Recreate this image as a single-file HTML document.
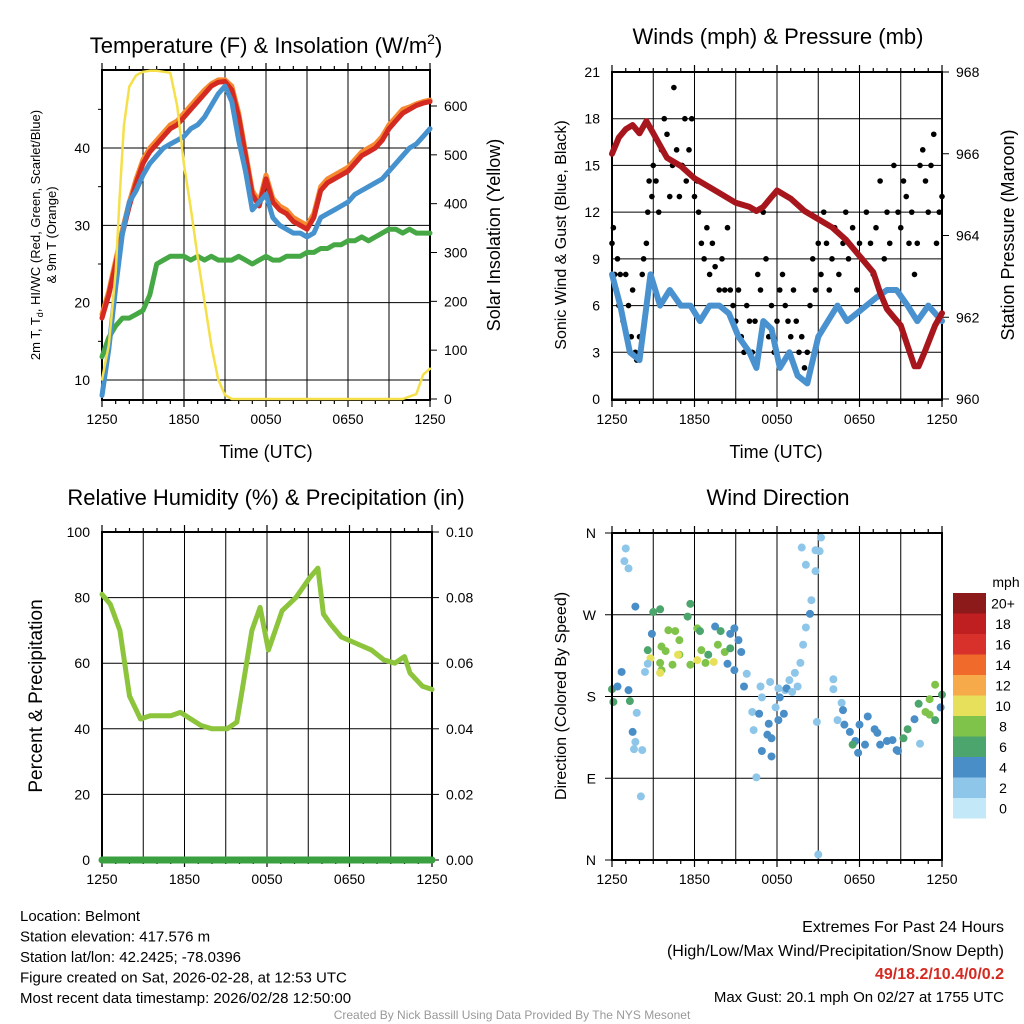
<!DOCTYPE html>
<html><head><meta charset="utf-8"><style>
html,body{margin:0;padding:0;background:#fff}
svg{display:block;font-family:"Liberation Sans",Arial,sans-serif}
</style></head><body>
<svg id="c" width="1024" height="1024" viewBox="0 0 1024 1024"></svg>
<script>
// ---------- DATA ----------
const hrs = [0,1,2,3,4,5,6,7,8,9,10,11,12,13,14,15,16,17,18,19,20,21,22,23,24];
const tempHours = [0,0.5,1,1.5,2,2.5,3,3.5,4,4.5,5,5.5,6,6.5,7,7.5,8,8.5,9,9.5,10,10.5,11,11.5,12,12.5,13,13.5,14,14.5,15,15.5,16,16.5,17,17.5,18,18.5,19,19.5,20,20.5,21,21.5,22,22.5,23,23.5,24];
const tempRed =    [18,21,25,29,32.5,35.5,38,39.5,40.5,41.5,42.5,43,44,45,46,47,48,48.5,48.6,47.5,44,39,34,32.5,36,33,32,31.5,30.5,30,29.5,31,34.5,35.5,36,36.5,37,38,39,39.5,40,41,42.5,43.5,44.5,45,45.5,45.8,46];
const tempOrange = [18.5,21.5,25.5,29.5,33,36,38.5,40,41,42,43,43.5,44.5,45.5,46.5,47.5,48.3,48.8,48.8,48,44.5,39.5,34.5,33,36.5,33.5,32.5,32,31,30.5,30,31.5,35,36,36.5,37,37.5,38.5,39.5,40,40.5,41.5,43,44,45,45.3,45.7,46,46.2];
const tempBlue =   [8,14,22,29,33,34.5,36.5,38,39,40,40.5,41,41.5,42.5,43,44,45.5,47,48,46,41,37,32,33,34,31,30,29.5,29,29,28.5,29,31,31.5,32,32.5,33,34,34.5,35,35.5,36,37,38,39,40,40.5,41.5,42.5];
const tempGreen =  [13,15.5,17,18,18,18.5,19,21,25,25.5,26,26,26,25.5,26,25.5,26,25.5,25.5,25.5,26,25.5,25,25.5,26,25.5,25.5,26,26,26,26.5,26.5,27,27,27.5,27.5,28,28,28.5,28,28.5,29,29.5,29.5,29,29.5,29,29,29];
const insolHours = [0,0.5,1,1.3,1.6,2,2.5,3,3.5,4,5,5.5,6,6.5,7,7.5,8,8.5,9,9.5,10,22,23,23.5,24];
const insolVals  = [40,110,260,420,560,640,663,670,672,672,668,600,480,390,290,200,110,40,8,0,0,0,10,50,62];

const presHours = [0,0.5,1,1.5,2,2.5,3,3.5,4,5,6,7,8,9,10,10.5,11,11.5,12,13,14,15,16,17,18,19,19.5,20,20.5,21,21.5,22,22.3,22.8,23.5,24];
const presVals  = [966.0,966.4,966.6,966.7,966.5,966.8,966.5,966.2,965.9,965.7,965.4,965.2,965.0,964.8,964.7,964.6,964.7,964.9,965.1,964.9,964.6,964.4,964.2,963.9,963.5,963.1,962.6,962.2,962.0,961.8,961.3,960.8,960.8,961.2,961.8,962.1];
const windVals  = [8,6,3,2.5,8,6,7,6,6,5,6,6,5.5,4,3,2,5,4.5,2,3,1.5,1,4,5,6,5,5.5,6,6.5,7,7,6,5,6,5];
const windHours = [0,0.6,1.3,2,2.8,3.5,4.2,5,5.7,6.4,7.1,7.8,8.5,9.2,10,10.5,11,11.6,12.2,12.9,13.5,14.2,15,15.7,16.4,17.1,17.8,18.5,19.2,20,20.7,21.5,22.2,23,24];
const gustHours = [0,0.1,0.2,0.3,0.4,0.5,0.6,0.8,1.0,1.2,1.4,1.5,1.7,1.8,2.0,2.2,2.3,2.5,2.6,2.7,2.9,3.0,3.2,3.4,3.6,3.8,4.0,4.2,4.4,4.5,4.7,4.9,5.1,5.3,5.4,5.6,5.8,6.0,6.2,6.3,6.5,6.7,6.9,7.1,7.3,7.5,7.8,8.0,8.2,8.4,8.6,8.8,9.0,9.2,9.4,9.6,9.8,10.0,10.2,10.4,10.6,10.8,11.0,11.2,11.4,11.6,11.8,12.0,12.2,12.4,12.6,12.8,13.0,13.2,13.4,13.6,13.8,14.0,14.2,14.4,14.6,14.8,15.0,15.2,15.4,15.6,15.8,16.0,16.2,16.5,16.8,17.0,17.2,17.5,17.8,18.0,18.2,18.5,18.8,19.0,19.2,19.5,19.8,20.0,20.2,20.5,20.8,21.0,21.2,21.4,21.6,21.8,22.0,22.2,22.4,22.6,22.8,23.0,23.2,23.4,23.6,23.8,24.0];
const gustVals  = [10,11,8,7,9,6,8,5,8,6,4,7,3,2.5,4,8,9,10,12,14,13,15,14,12,16,18,17,13,15,20,16,13,15,18,14,16,18,13,14,12,10,9,11,8,10,8.5,7,9,7,11,7,6,5,7,4,3,6,5,3,5,8,7,12,9,4,6,3,5,7,8,6,5,4,7,5,3,4,2,3,6,9,7,10,8,12,10,7,9,11,8,10,12,9,11,7,10,9,12,10,8,11,14,9,12,10,15,12,11,14,13,10,12,8,10,15,16,14,12,15,17,10,12,13];

const rhHours = [0,0.6,1.3,2,2.8,3.5,5,5.7,7.2,8,9.1,9.8,10.2,10.9,11.5,12.1,12.6,13.1,14.1,15.1,15.7,16.1,16.6,17.4,18.5,19.6,20.5,21.3,22,22.4,23.3,24];
const rhVals  = [81,78,70,50,43,44,44,45,41,40,40,42,52,70,77,64,70,76,80,86,89,75,72,68,66,64,61,60,62,57,53,52];
const precipHours = [0,24];
const precipVals  = [0,0];

const dirHours = [1.0,0.9,1.2,1.7,3.0,3.5,5.7,5.5,4.1,4.6,6.2,6.4,7.5,7.9,8.6,2.6,3.6,4.9,6.5,7.0,7.7,8.2,8.6,8.9,9.2,9.4,2.8,4.8,6.2,7.4,4.4,5.7,6.8,3.5,3.9,4.9,2.9,3.6,3.5,2.6,2.4,8.4,8.9,9.6,9.8,10.8,11.5,10.9,12.1,12.2,12.6,12.9,13.3,13.7,13.9,14.1,14.4,14.5,14.1,13.8,14.8,15.1,15.2,14.8,14.9,15.0,0.0,0.1,0.4,0.7,1.2,1.3,1.8,1.5,1.7,1.6,2.2,2.1,10.2,10.3,10.7,10.9,11.3,11.4,11.6,11.6,10.5,12.7,13.1,13.5,11.9,12.1,12.5,16.7,16.8,16.9,17.3,17.7,17.5,18.0,18.6,19.1,19.3,19.5,20.0,20.4,20.8,21.2,21.5,22.0,22.3,22.8,23.1,23.5,23.9,23.1,23.5,24.0,22.4,20.7,17.9,18.4,16.4,16.1,16.1];
const dirDeg   = [343,329,321,279,273,276,282,268,253,252,255,252,257,252,249,231,235,226,231,226,237,229,233,255,242,229,222,226,220,218,215,215,217,217,230,242,249,209,206,216,207,216,209,191,205,191,196,179,189,179,187,198,206,217,237,256,271,286,325,344,318,340,355,341,152,6,188,174,191,207,187,175,162,141,130,122,121,70,163,143,161,120,138,150,134,114,91,189,185,191,168,154,161,173,165,149,141,131,127,149,158,144,140,127,131,132,120,134,144,155,172,163,160,154,168,177,193,182,128,121,118,127,154,188,199];
const dirSpeed = [2,1,2,4,6,6,6,6,8,8,8,6,4,6,4,6,8,8,8,6,8,8,6,4,4,4,10,10,10,10,8,8,8,8,8,8,4,8,10,2,2,4,4,4,2,2,2,2,2,4,2,2,2,2,2,2,4,2,1,1,1,1,1,1,1,1,6,6,4,4,4,6,2,4,2,2,2,2,2,2,4,4,4,4,4,4,2,4,2,2,2,4,4,2,4,4,4,4,6,4,4,4,4,4,4,4,4,6,6,4,6,8,8,6,4,8,8,6,2,4,4,4,2,2,2];
const cbLabels = ["0","2","4","6","8","10","12","14","16","18","20+"];
const cbColors = ["#c3e8f8","#8ec6ea","#4a8ec8","#4ba56c","#80c34a","#e6e05a","#f7aa4a","#f06a2c","#d8302a","#c01f21","#8c1a1a"];
const tTicks = [10,20,30,40];
const insTicks = [0,100,200,300,400,500,600];
const windTicks = [0,3,6,9,12,15,18,21];
const presTicks = [960,962,964,966,968];
const rhTicks = [0,20,40,60,80,100];
const pTicks = ["0.00","0.02","0.04","0.06","0.08","0.10"];
const dirTicks = ["N","E","S","W","N"];
const timeLabels = ["1250","1850","0050","0650","1250"];

// ---------- HELPERS ----------
const NS="http://www.w3.org/2000/svg", svg=document.getElementById('c');
function mk(tag,attrs,parent){const e=document.createElementNS(NS,tag);for(const k in attrs)e.setAttribute(k,attrs[k]);(parent||svg).appendChild(e);return e;}
function txt(s,x,y,size,anchor,extra){const e=mk('text',Object.assign({x:x,y:y,'font-size':size,'text-anchor':anchor||'middle',fill:'#000'},extra||{}));e.textContent=s;return e;}
function lin(d0,d1,r0,r1){return v=>r0+(v-d0)/(d1-d0)*(r1-r0);}
function poly(xs,ys,fx,fy,color,w,name){const pts=xs.map((h,i)=>fx(h).toFixed(1)+','+fy(ys[i]).toFixed(1)).join(' ');const p=mk('polyline',{points:pts,fill:'none',stroke:color,'stroke-width':w,'stroke-linejoin':'round','stroke-linecap':'round'});

return p;}

function frame(L,R,T,B,name){
  const g=mk('g',{});
  
  
  const fx=lin(0,24,L,R);
  hrs.forEach(h=>{if(h%3===0&&h>0&&h<24)mk('line',{x1:fx(h),x2:fx(h),y1:T,y2:B,stroke:'#000','stroke-width':1},g);});
  hrs.forEach(h=>{const x=fx(h);mk('line',{x1:x,x2:x,y1:B,y2:B+(h%6===0?7:4),stroke:'#000','stroke-width':1.2},g);mk('line',{x1:x,x2:x,y1:T,y2:T-(h%6===0?7:4),stroke:'#000','stroke-width':1.2},g);});
  timeLabels.forEach((s,i)=>{const t=txt(s,fx(i*6),B+24,14);});
  return {g,fx};
}
function border(L,R,T,B,g){mk('rect',{x:L,y:T,width:R-L,height:B-T,fill:'none',stroke:'#000','stroke-width':2},g);}

// ---------- PANEL 1: Temperature ----------
(function(){
 const L=102,R=430,T=70,B=400;
 const {g,fx}=frame(L,R,T,B,'temperature-panel');
 const fy=lin(10,40,380,148), fi=lin(0,600,399,106);
 tTicks.forEach(v=>{mk('line',{x1:L,x2:R,y1:fy(v),y2:fy(v),stroke:'#000'},g);const t=txt(v,L-12,fy(v)+5,14,'end');});
 [15,25,35,45].forEach(v=>{mk('line',{x1:L-4,x2:L,y1:fy(v),y2:fy(v),stroke:'#000'},g);});
 insTicks.forEach(v=>{mk('line',{x1:R,x2:R+7,y1:fi(v),y2:fi(v),stroke:'#000'},g);const t=txt(v,R+14,fi(v)+5,14,'start');});
 poly(tempHours,tempGreen,fx,fy,'#46a844',5,'dewpoint-line');
 poly(tempHours,tempOrange,fx,fy,'#f58a30',5,'temp-9m-line');
 poly(tempHours,tempRed,fx,fy,'#d42a22',5,'temp-2m-line');
 poly(tempHours,tempBlue,fx,fy,'#4592cf',5,'windchill-line');
 poly(insolHours,insolVals,fx,fi,'#f5e04a',2.5,'insolation-line');
 border(L,R,T,B,g);
 const t1=mk('text',{x:266,y:53,'font-size':22,'text-anchor':'middle'});t1.innerHTML='Temperature (F) &amp; Insolation (W/m<tspan dy="-9" font-size="14">2</tspan><tspan dy="9">)</tspan>';
 
 const a=txt('Time (UTC)',266,458,18);
 const y1=mk('text',{transform:'translate(40,235) rotate(-90)','font-size':13,'text-anchor':'middle'});y1.innerHTML='2m T, T<tspan dy="3" font-size="9">d</tspan><tspan dy="-3">, HI/WC (Red, Green, Scarlet/Blue)</tspan>';
 
 const y1b=txt('& 9m T (Orange)',0,0,13,'middle',{transform:'translate(56,235) rotate(-90)'});
 const y2=txt('Solar Insolation (Yellow)',0,0,18,'middle',{transform:'translate(500,235) rotate(-90)'});
})();

// ---------- PANEL 2: Winds ----------
(function(){
 const L=612,R=942,T=72,B=400;
 const {g,fx}=frame(L,R,T,B,'winds-panel');
 const fy=lin(0,21,399,72), fp=lin(960,968,399,72);
 windTicks.forEach(v=>{mk('line',{x1:L,x2:R,y1:fy(v),y2:fy(v),stroke:'#000'},g);const t=txt(v,L-12,fy(v)+5,14,'end');});
 presTicks.forEach(v=>{mk('line',{x1:R,x2:R+7,y1:fp(v),y2:fp(v),stroke:'#000'},g);const t=txt(v,R+14,fp(v)+5,14,'start');});
 poly(windHours,windVals,fx,fy,'#4a92cf',6,'wind-speed-line');
 gustHours.forEach((h,i)=>{const c=mk('circle',{cx:fx(h),cy:fy(gustVals[i]),r:2.8,fill:'#000'},g);
  
  });
 poly(presHours,presVals,fx,fp,'#a8161d',6,'pressure-line');
 border(L,R,T,B,g);
 const t=txt('Winds (mph) & Pressure (mb)',778,44,22);
 const a=txt('Time (UTC)',776,458,18);
 const y1=txt('Sonic Wind & Gust (Blue, Black)',0,0,16,'middle',{transform:'translate(566,235) rotate(-90)'});
 const y2=txt('Station Pressure (Maroon)',0,0,18,'middle',{transform:'translate(1014,235) rotate(-90)'});
})();

// ---------- PANEL 3: RH ----------
(function(){
 const L=102,R=432,T=532,B=860;
 const {g,fx}=frame(L,R,T,B,'humidity-panel');
 const fy=lin(0,100,860,532), fp=lin(0,0.1,860,532);
 rhTicks.forEach((v,i)=>{mk('line',{x1:L,x2:R,y1:fy(v),y2:fy(v),stroke:'#000'},g);const t=txt(v,L-12,fy(v)+5,14,'end');
  mk('line',{x1:R,x2:R+7,y1:fy(v),y2:fy(v),stroke:'#000'},g);const t2=txt(pTicks[i],R+14,fy(v)+5,14,'start');});
 poly(rhHours,rhVals,fx,fy,'#8cc43c',5,'rh-line');
 poly(precipHours,precipVals,fx,fp,'#3aa040',7,'precip-line');
 border(L,R,T,B,g);
 const t=txt('Relative Humidity (%) & Precipitation (in)',266,505,22);
 const y1=txt('Percent & Precipitation',0,0,19,'middle',{transform:'translate(42,696) rotate(-90)'});
})();

// ---------- PANEL 4: Wind Direction ----------
(function(){
 const L=612,R=942,T=533,B=860;
 const {g,fx}=frame(L,R,T,B,'wind-direction-panel');
 const fy=lin(0,360,860,533);
 dirTicks.forEach((s,i)=>{const y=fy(i*90);mk('line',{x1:L-7,x2:R,y1:y,y2:y,stroke:'#000'},g);const t=txt(s,L-16,y+5,14,'end');});
 dirHours.forEach((h,i)=>{const idx=Math.min(10,Math.floor(dirSpeed[i]/2+0.5));const c=mk('circle',{cx:fx(h),cy:fy(dirDeg[i]),r:4,fill:cbColors[idx]},g);
  
  });
 border(L,R,T,B,g);
 const t=txt('Wind Direction',778,505,22);
 const y1=txt('Direction (Colored By Speed)',0,0,16,'middle',{transform:'translate(566,696) rotate(-90)'});
 const cb=mk('g',{});
 const h=20.5, top=593;
 cbColors.forEach((c,i)=>{const y=top+(10-i)*h;mk('rect',{x:953,y:y,width:33,height:h,fill:c},cb);
  const t=txt(cbLabels[i],1003,y+h/2+5,14,'middle');});
 const u=txt('mph',1006,587,14);
})();

// ---------- FOOTER ----------
const info=["Location: Belmont","Station elevation: 417.576 m","Station lat/lon: 42.2425; -78.0396","Figure created on Sat, 2026-02-28, at 12:53 UTC","Most recent data timestamp: 2026/02/28 12:50:00"];
info.forEach((s,i)=>{const t=txt(s,20,921+i*20.5,15,'start');});
[["Extremes For Past 24 Hours",932,16,'#000','normal'],["(High/Low/Max Wind/Precipitation/Snow Depth)",956,16,'#000','normal'],["49/18.2/10.4/0/0.2",979,16,'#d42a22','bold'],["Max Gust: 20.1 mph On 02/27 at 1755 UTC",1002,15,'#000','normal']].forEach(a=>{
 const t=txt(a[0],1004,a[1],a[2],'end',{fill:a[3],'font-weight':a[4]});});
const cr=txt('Created By Nick Bassill Using Data Provided By The NYS Mesonet',512,1019,12,'middle',{fill:'#999'});

</script>
</body></html>
